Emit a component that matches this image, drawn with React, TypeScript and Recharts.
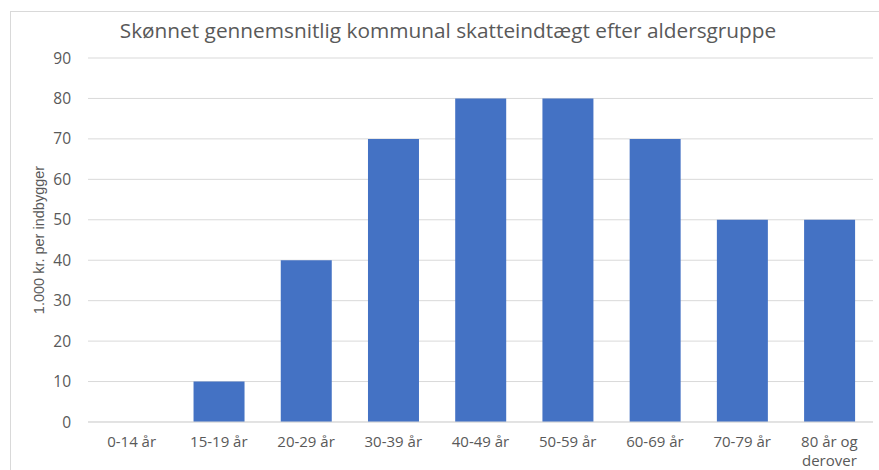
import React from "react";
import { BarChart, Bar, XAxis, YAxis, CartesianGrid, Label } from "recharts";

const ageGroups = ["0-14 år", "15-19 år", "20-29 år", "30-39 år", "40-49 år", "50-59 år", "60-69 år", "70-79 år", "80 år og derover"];
const taxIncome = [0, 10, 40, 70, 80, 80, 70, 50, 50];
const yTicks = [0, 10, 20, 30, 40, 50, 60, 70, 80, 90];

const data = ageGroups.map((group, i) => ({ group, value: taxIncome[i] }));

const FONT = "'Open Sans', 'Liberation Sans', sans-serif";

const AgeTick = (props: any) => {
  const { x, y, payload } = props;
  const label: string = payload.value;
  const lines = label === "80 år og derover" ? ["80 år og", "derover"] : [label];
  return (
    <g transform={`translate(${x},${y})`}>
      {lines.map((line, i) => (
        <text key={i} x={0} y={17 + i * 19} textAnchor="middle" fill="#595959" fontSize={15} fontFamily={FONT}>
          {line}
        </text>
      ))}
    </g>
  );
};

export default function App() {
  return (
    <div style={{ position: "absolute", left: 0, top: 0, width: 879, height: 470, background: "#fff", overflow: "hidden" }}>
      <div
        style={{
          position: "absolute",
          left: 10,
          top: 11,
          width: 880,
          height: 470,
          borderLeft: "1px solid #d9d9d9",
          borderTop: "1px solid #d9d9d9",
        }}
      />
      <div
        style={{
          position: "absolute",
          left: 0,
          top: 16,
          width: 896,
          textAlign: "center",
          fontFamily: FONT,
          fontSize: 20.8,
          color: "#595959",
        }}
      >
        Skønnet gennemsnitlig kommunal skatteindtægt efter aldersgruppe
      </div>
      <div style={{ position: "absolute", left: 10, top: 11 }}>
        <BarChart width={869} height={459} data={data} margin={{ top: 47, right: 6, left: 38, bottom: 0 }} barCategoryGap="21%">
          <CartesianGrid vertical={false} stroke="#d9d9d9" />
          <XAxis
            dataKey="group"
            interval={0}
            height={48}
            tick={<AgeTick />}
            tickLine={false}
            axisLine={{ stroke: "#d9d9d9" }}
          />
          <YAxis
            domain={[0, 90]}
            ticks={yTicks}
            width={40}
            tickLine={false}
            axisLine={false}
            tick={{ fill: "#595959", fontSize: 15.5, fontFamily: FONT }}
            tickMargin={11}
          >
            <Label
              value="1.000 kr. per indbygger"
              angle={-90}
              position="insideLeft"
              offset={-9}
              style={{ textAnchor: "middle", fill: "#595959", fontSize: 14.5, fontFamily: "'Liberation Sans Narrow', 'Liberation Sans', sans-serif" }}
            />
          </YAxis>
          <Bar dataKey="value" fill="#4472C4" isAnimationActive={false} />
        </BarChart>
      </div>
    </div>
  );
}
